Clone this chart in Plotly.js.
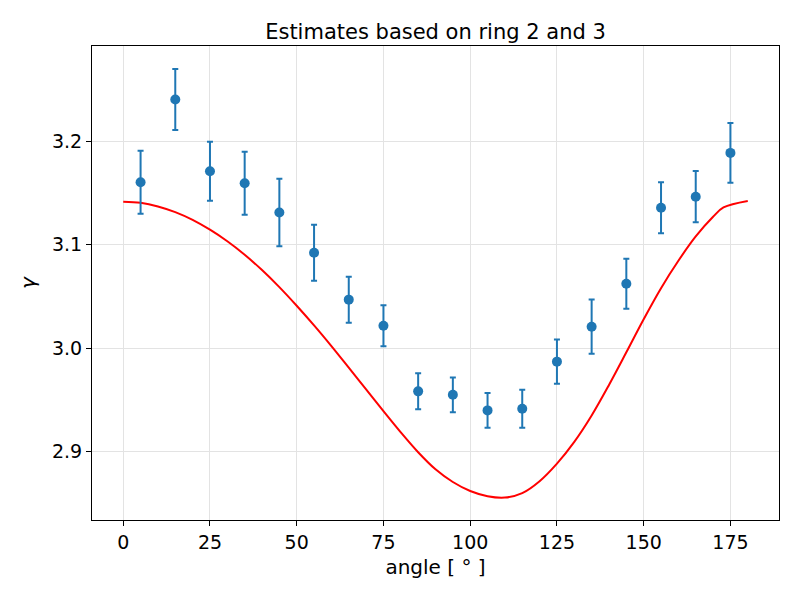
<!DOCTYPE html>
<html>
<head>
<meta charset="utf-8">
<script src="https://cdn.plot.ly/plotly-3.0.1.min.js"></script>
<style>
  body { margin: 0; }
  #myDiv { width: 800px; height: 600px; }
</style>
</head>
<body>
<div id="myDiv"></div>
<script>
// measured estimates (angle in degrees)
var angles = [5, 15, 25, 35, 45, 55, 65, 75, 85, 95, 105, 115, 125, 135, 145, 155, 165, 175];
var gamma = [3.1604, 3.2403, 3.1710, 3.1594, 3.1311, 3.0922, 3.0469, 3.0217, 2.9583,
             2.9550, 2.9399, 2.9415, 2.9870, 3.0208, 3.0623, 3.1357, 3.1464, 3.1887];
var gammaErr = [0.0305, 0.0295, 0.0285, 0.0305, 0.0327, 0.0270, 0.0222, 0.0197, 0.0174,
                0.0168, 0.0168, 0.0184, 0.0213, 0.0262, 0.0242, 0.0247, 0.0248, 0.0289];

// model curve
var curveX = [0, 5, 10, 15, 20, 25, 30, 35, 40, 45, 50, 55, 60, 65, 70, 75, 80, 85, 90,
              95, 100, 105, 110, 115, 120, 125, 130, 135, 140, 145, 150, 155, 160,
              165, 170, 173, 180];
var curveY = [3.1416, 3.1405, 3.1370, 3.1315, 3.1240, 3.1145, 3.1033, 3.0903, 3.0755,
              3.0590, 3.0410, 3.0220, 3.0020, 2.9812, 2.9602, 2.9392, 2.9187, 2.8995,
              2.8830, 2.8707, 2.8620, 2.8570, 2.8557, 2.8600, 2.8715, 2.8885,
              2.9095, 2.9350, 2.9645, 2.9960, 3.0280, 3.0580, 3.0845, 3.1080, 3.1270,
              3.1360, 3.1423];

var points = {
  x: angles,
  y: gamma,
  type: 'scatter',
  mode: 'markers',
  marker: {color: '#1f77b4', size: 10},
  error_y: {type: 'data', array: gammaErr, visible: true, color: '#1f77b4', thickness: 2, width: 3},
  showlegend: false
};

var model = {
  x: curveX,
  y: curveY,
  type: 'scatter',
  mode: 'lines',
  line: {color: '#ff0000', width: 2, shape: 'spline', smoothing: 1},
  showlegend: false
};

var data = [model, points];

var font = 'DejaVu Sans, sans-serif';

var layout = {
  width: 800,
  height: 600,
  margin: {l: 92, r: 21, t: 46, b: 80},
  paper_bgcolor: 'white',
  plot_bgcolor: 'white',
  font: {family: font, color: 'black', size: 19},
  title: {
    text: 'Estimates based on ring 2 and 3',
    font: {family: font, size: 21, color: 'black'},
    x: 0.5, xref: 'paper', y: 0.948, yanchor: 'middle'
  },
  xaxis: {
    range: [-9, 189],
    tick0: 0, dtick: 25,
    ticks: 'outside', ticklen: 5, tickcolor: 'black', tickwidth: 1,
    showline: true, mirror: true, linecolor: 'black', linewidth: 1,
    showgrid: true, gridcolor: '#e3e3e3', gridwidth: 1,
    zeroline: false,
    tickfont: {size: 19},
    title: {text: 'angle [ ° ]', font: {size: 20}, standoff: 8}
  },
  yaxis: {
    range: [2.834, 3.292],
    tick0: 2.9, dtick: 0.1, tickformat: '.1f',
    ticks: 'outside', ticklen: 5, tickcolor: 'black', tickwidth: 1,
    showline: true, mirror: true, linecolor: 'black', linewidth: 1,
    showgrid: true, gridcolor: '#e3e3e3', gridwidth: 1,
    zeroline: false,
    tickfont: {size: 19},
    title: {text: '<i>γ</i>', font: {size: 20}, standoff: 10}
  }
};

Plotly.newPlot('myDiv', data, layout, {displayModeBar: false});
</script>
</body>
</html>
